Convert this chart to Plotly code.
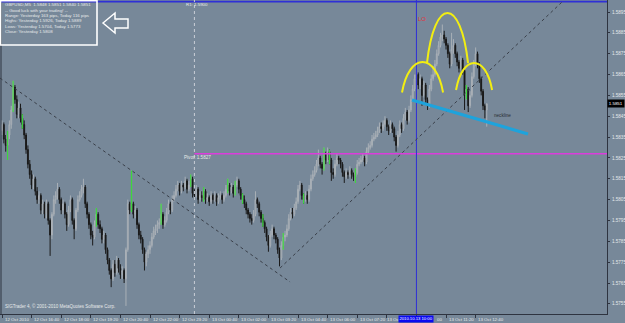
import plotly.graph_objects as go

# ------------------------------------------------------------------ data
# GBPUSD M5, bar 0 = 12 Oct 2010 15:20 (one bar every 5 minutes)
first_open = 1.5838
close = [
    1.5841, 1.5834, 1.5831, 1.5836, 1.5841, 1.5848, 1.5859, 1.5853, 1.5846, 1.5849,
    1.5844, 1.5841, 1.5836, 1.5829, 1.5822, 1.5817, 1.5812, 1.5815, 1.5809, 1.5805,
    1.5807, 1.5800, 1.5803, 1.5798, 1.5803, 1.5795, 1.5788, 1.5798, 1.5805, 1.5807,
    1.5810, 1.5805, 1.5800, 1.5803, 1.5798, 1.5793, 1.5800, 1.5805, 1.5795, 1.5791,
    1.5800, 1.5805, 1.5807, 1.5810, 1.5811, 1.5803, 1.5798, 1.5793, 1.5788, 1.5787,
    1.5793, 1.5798, 1.5793, 1.5791, 1.5786, 1.5788, 1.5781, 1.5776, 1.5771, 1.5767,
    1.5774, 1.5770, 1.5776, 1.5772, 1.5769, 1.5771, 1.5767, 1.5781, 1.5803, 1.5800,
    1.5803, 1.5798, 1.5800, 1.5793, 1.5788, 1.5786, 1.5781, 1.5775, 1.5779, 1.5781,
    1.5783, 1.5787, 1.5790, 1.5791, 1.5793, 1.5794, 1.5798, 1.5793, 1.5795, 1.5799,
    1.5803, 1.5800, 1.5805, 1.5807, 1.5810, 1.5812, 1.5809, 1.5812, 1.5811, 1.5814,
    1.5810, 1.5812, 1.5815, 1.5808, 1.5807, 1.5810, 1.5805, 1.5807, 1.5806, 1.5809,
    1.5805, 1.5806, 1.5804, 1.5807, 1.5805, 1.5807, 1.5804, 1.5806, 1.5807, 1.5805,
    1.5807, 1.5810, 1.5812, 1.5809, 1.5811, 1.5808, 1.5812, 1.5814, 1.5810, 1.5807,
    1.5805, 1.5803, 1.5800, 1.5798, 1.5796, 1.5795, 1.5798, 1.5805, 1.5803, 1.5799,
    1.5796, 1.5794, 1.5791, 1.5787, 1.5783, 1.5788, 1.5791, 1.5788, 1.5786, 1.5781,
    1.5777, 1.5783, 1.5787, 1.5788, 1.5791, 1.5796, 1.5799, 1.5798, 1.5801, 1.5804,
    1.5810, 1.5812, 1.5807, 1.5805, 1.5807, 1.5805, 1.5810, 1.5815, 1.5817, 1.5819,
    1.5822, 1.5825, 1.5822, 1.5820, 1.5827, 1.5824, 1.5828, 1.5824, 1.5818, 1.5817,
    1.5822, 1.5825, 1.5824, 1.5822, 1.5818, 1.5816, 1.5818, 1.5817, 1.5819, 1.5817,
    1.5816, 1.5818, 1.5822, 1.5823, 1.5824, 1.5825, 1.5823, 1.5828, 1.5830, 1.5831,
    1.5834, 1.5835, 1.5836, 1.5838, 1.5840, 1.5839, 1.5841, 1.5843, 1.5840, 1.5838,
    1.5841, 1.5839, 1.5835, 1.5831, 1.5836, 1.5841, 1.5839, 1.5844, 1.5847, 1.5843,
    1.5848, 1.5853, 1.5858, 1.5863, 1.5865, 1.5860, 1.5863, 1.5855, 1.5860, 1.5853,
    1.5850, 1.5858, 1.5863, 1.5865, 1.5870, 1.5875, 1.5879, 1.5883, 1.5884, 1.5882,
    1.5879, 1.5875, 1.5870, 1.5877, 1.5879, 1.5875, 1.5871, 1.5868, 1.5872, 1.5867,
    1.5855, 1.5858, 1.5850, 1.5855, 1.5864, 1.5870, 1.5875, 1.5870, 1.5863, 1.5857,
    1.5850, 1.5848, 1.5851,
]
high = [
    1.5843, 1.5842, 1.5836, 1.5838, 1.5843, 1.5850, 1.5862, 1.5860, 1.5855, 1.5852,
    1.5851, 1.5846, 1.5843, 1.5837, 1.5831, 1.5824, 1.5819, 1.5817, 1.5816, 1.5811,
    1.5809, 1.5808, 1.5805, 1.5804, 1.5805, 1.5804, 1.5796, 1.5799, 1.5807, 1.5809,
    1.5813, 1.5811, 1.5806, 1.5805, 1.5804, 1.5799, 1.5802, 1.5807, 1.5806, 1.5796,
    1.5801, 1.5807, 1.5809, 1.5812, 1.5815, 1.5812, 1.5804, 1.5799, 1.5794, 1.5790,
    1.5795, 1.5801, 1.5799, 1.5795, 1.5792, 1.5790, 1.5789, 1.5782, 1.5777, 1.5772,
    1.5776, 1.5776, 1.5778, 1.5777, 1.5774, 1.5773, 1.5772, 1.5782, 1.5805, 1.5804,
    1.5819, 1.5804, 1.5802, 1.5801, 1.5794, 1.5790, 1.5787, 1.5782, 1.5780, 1.5783,
    1.5785, 1.5789, 1.5792, 1.5793, 1.5795, 1.5796, 1.5803, 1.5799, 1.5797, 1.5801,
    1.5805, 1.5804, 1.5807, 1.5809, 1.5812, 1.5814, 1.5813, 1.5814, 1.5813, 1.5816,
    1.5815, 1.5814, 1.5817, 1.5816, 1.5810, 1.5812, 1.5811, 1.5809, 1.5809, 1.5811,
    1.5810, 1.5808, 1.5807, 1.5809, 1.5808, 1.5809, 1.5808, 1.5808, 1.5809, 1.5808,
    1.5809, 1.5812, 1.5815, 1.5813, 1.5813, 1.5812, 1.5814, 1.5816, 1.5815, 1.5811,
    1.5808, 1.5807, 1.5804, 1.5801, 1.5799, 1.5798, 1.5800, 1.5809, 1.5806, 1.5804,
    1.5800, 1.5798, 1.5795, 1.5792, 1.5788, 1.5790, 1.5793, 1.5792, 1.5789, 1.5787,
    1.5782, 1.5785, 1.5789, 1.5790, 1.5793, 1.5798, 1.5801, 1.5801, 1.5803, 1.5806,
    1.5812, 1.5814, 1.5813, 1.5808, 1.5809, 1.5809, 1.5812, 1.5817, 1.5819, 1.5821,
    1.5824, 1.5829, 1.5826, 1.5823, 1.5830, 1.5828, 1.5830, 1.5829, 1.5825, 1.5820,
    1.5824, 1.5827, 1.5826, 1.5825, 1.5823, 1.5819, 1.5820, 1.5819, 1.5821, 1.5820,
    1.5818, 1.5820, 1.5824, 1.5825, 1.5826, 1.5827, 1.5826, 1.5830, 1.5832, 1.5833,
    1.5836, 1.5837, 1.5838, 1.5840, 1.5842, 1.5842, 1.5843, 1.5845, 1.5844, 1.5841,
    1.5843, 1.5842, 1.5840, 1.5836, 1.5838, 1.5843, 1.5842, 1.5846, 1.5849, 1.5848,
    1.5850, 1.5855, 1.5860, 1.5865, 1.5870, 1.5866, 1.5865, 1.5864, 1.5862, 1.5861,
    1.5854, 1.5860, 1.5865, 1.5869, 1.5872, 1.5877, 1.5881, 1.5885, 1.5889, 1.5886,
    1.5883, 1.5880, 1.5876, 1.5885, 1.5882, 1.5880, 1.5876, 1.5872, 1.5874, 1.5873,
    1.5868, 1.5860, 1.5859, 1.5857, 1.5866, 1.5872, 1.5878, 1.5876, 1.5871, 1.5864,
    1.5858, 1.5851, 1.5851,
]
low = [
    1.5836, 1.5832, 1.5828, 1.5824, 1.5834, 1.5839, 1.5847, 1.5851, 1.5844, 1.5844,
    1.5842, 1.5839, 1.5834, 1.5827, 1.5820, 1.5815, 1.5810, 1.5810, 1.5807, 1.5803,
    1.5803, 1.5798, 1.5798, 1.5796, 1.5796, 1.5793, 1.5778, 1.5786, 1.5797, 1.5803,
    1.5805, 1.5803, 1.5798, 1.5798, 1.5796, 1.5790, 1.5792, 1.5799, 1.5793, 1.5786,
    1.5790, 1.5799, 1.5804, 1.5806, 1.5808, 1.5801, 1.5796, 1.5791, 1.5786, 1.5783,
    1.5786, 1.5792, 1.5791, 1.5789, 1.5784, 1.5784, 1.5779, 1.5774, 1.5769, 1.5763,
    1.5766, 1.5768, 1.5769, 1.5770, 1.5767, 1.5767, 1.5765, 1.5754, 1.5780, 1.5798,
    1.5799, 1.5796, 1.5796, 1.5791, 1.5786, 1.5784, 1.5779, 1.5771, 1.5773, 1.5777,
    1.5779, 1.5782, 1.5786, 1.5788, 1.5789, 1.5791, 1.5793, 1.5791, 1.5792, 1.5794,
    1.5798, 1.5798, 1.5799, 1.5804, 1.5806, 1.5809, 1.5807, 1.5808, 1.5809, 1.5810,
    1.5808, 1.5809, 1.5811, 1.5806, 1.5805, 1.5806, 1.5803, 1.5804, 1.5804, 1.5804,
    1.5803, 1.5804, 1.5802, 1.5803, 1.5803, 1.5804, 1.5802, 1.5803, 1.5805, 1.5803,
    1.5804, 1.5806, 1.5808, 1.5807, 1.5808, 1.5806, 1.5807, 1.5811, 1.5808, 1.5805,
    1.5803, 1.5801, 1.5798, 1.5796, 1.5794, 1.5793, 1.5794, 1.5797, 1.5801, 1.5797,
    1.5794, 1.5792, 1.5789, 1.5785, 1.5780, 1.5782, 1.5787, 1.5786, 1.5784, 1.5779,
    1.5773, 1.5776, 1.5781, 1.5785, 1.5787, 1.5790, 1.5795, 1.5796, 1.5797, 1.5800,
    1.5803, 1.5809, 1.5805, 1.5803, 1.5804, 1.5803, 1.5804, 1.5809, 1.5814, 1.5816,
    1.5818, 1.5821, 1.5820, 1.5817, 1.5819, 1.5822, 1.5823, 1.5822, 1.5814, 1.5815,
    1.5816, 1.5821, 1.5822, 1.5820, 1.5816, 1.5813, 1.5815, 1.5815, 1.5816, 1.5815,
    1.5814, 1.5813, 1.5817, 1.5821, 1.5822, 1.5823, 1.5821, 1.5822, 1.5827, 1.5829,
    1.5830, 1.5833, 1.5834, 1.5835, 1.5837, 1.5837, 1.5838, 1.5840, 1.5838, 1.5836,
    1.5837, 1.5837, 1.5833, 1.5828, 1.5830, 1.5835, 1.5837, 1.5838, 1.5843, 1.5841,
    1.5842, 1.5847, 1.5852, 1.5857, 1.5862, 1.5858, 1.5858, 1.5850, 1.5854, 1.5851,
    1.5848, 1.5849, 1.5857, 1.5862, 1.5864, 1.5869, 1.5874, 1.5878, 1.5881, 1.5880,
    1.5877, 1.5873, 1.5868, 1.5869, 1.5875, 1.5873, 1.5869, 1.5866, 1.5867, 1.5865,
    1.5848, 1.5853, 1.5847, 1.5849, 1.5854, 1.5863, 1.5869, 1.5868, 1.5861, 1.5855,
    1.5848, 1.5844, 1.5840,
]
green_bars = [3, 6, 11, 51, 70, 86, 102, 109, 122, 126, 130, 141, 152, 163, 174, 177, 191, 251]

time_tick_bars = [0, 16, 32, 48, 64, 80, 96, 112, 128, 144, 160, 176, 192, 208, 224, 240, 256]
time_tick_labels = ["12 Oct 2010", "12 Oct 16:40", "12 Oct 18:00", "12 Oct 19:20", "12 Oct 20:40",
                    "12 Oct 22:00", "12 Oct 23:20", "13 Oct 00:40", "13 Oct 02:00", "13 Oct 03:20",
                    "13 Oct 04:40", "13 Oct 06:00", "13 Oct 07:20", "13 Oct 08:40", "13 Oct 10:00",
                    "13 Oct 11:20", "13 Oct 12:40"]
# parts of the two labels that stay visible beside the cursor date box
label_visible_part = {"13 Oct 08:40": "13 Oct", "13 Oct 10:00": "00"}
price_ticks = [1.5755, 1.5765, 1.5775, 1.5785, 1.5795, 1.5805, 1.5815, 1.5825,
               1.5835, 1.5845, 1.5855, 1.5865, 1.5875, 1.5885, 1.5895]

pivot = 1.5827
r1 = 1.5900
current_price = 1.5851
day_start_bar = 104
cursor_bar = 224
cursor_label = "2010.10.13 10:00"

info_lines = ["GBPUSD,M5  1.5848 1.5851 1.5840 1.5851",
              "-- Good luck with your trading! --",
              "Range: Yesterday 163 pips, Today 116 pips",
              "Highs: Yesterday 1.5926, Today 1.5889",
              "Lows: Yesterday 1.5704, Today 1.5773",
              "Close: Yesterday 1.5808"]
copyright_text = "SIGTrader 4, \u00a9 2001-2010 MetaQuotes Software Corp."

# hand-drawn objects (bar index, price)
trend_down = [(-1.08, 1.58633), (155.7, 1.57655)]
trend_up = [(150.3, 1.57722), (302.7, 1.58998)]
neckline = [(221.6, 1.58528), (284.3, 1.58365)]
arcs = [  # x0, x1, base price, control price
    (216.2, 238.4, 1.58564, 1.58759),
    (229.7, 251.9, 1.58705, 1.59025),
    (245.4, 264.9, 1.58576, 1.58749),
]

# ------------------------------------------------------------------ figure
BG = "#778899"
FONT = "Liberation Sans"
X_RANGE = [-1.08, 327.0]
Y_RANGE = [1.575013, 1.590076]
PW, PH = 607.0, 314.0


def px(x):
    return x / PW


def py(y):
    return 1 - y / PH


opens = [first_open] + close[:-1]
bars = list(range(len(close)))

fig = go.Figure()
fig.add_trace(go.Candlestick(
    x=bars, open=opens, high=high, low=low, close=close,
    increasing=dict(line=dict(color="#a9b0b7", width=1), fillcolor="#7e8994"),
    decreasing=dict(line=dict(color="#1a1a1a", width=1), fillcolor="#0a0a0a"),
    whiskerwidth=0, hoverinfo="skip", showlegend=False))

gx, gy = [], []
for i in green_bars:
    gx += [i, i, None]
    gy += [low[i], high[i], None]
fig.add_trace(go.Scatter(x=gx, y=gy, mode="lines", line=dict(color="#3ed63e", width=1.2),
                         hoverinfo="skip", showlegend=False))

shapes = []
shapes.append(dict(type="line", xref="paper", yref="paper", x0=px(1), x1=px(1), y0=0, y1=1,
                   line=dict(color="#2e3440", width=1)))
shapes.append(dict(type="line", xref="paper", yref="y", x0=0, x1=1, y0=r1, y1=r1,
                   line=dict(color="#2f2fd6", width=1.6)))
shapes.append(dict(type="line", xref="x", yref="paper", x0=day_start_bar, x1=day_start_bar, y0=0, y1=1,
                   line=dict(color="#c9ced6", width=1, dash="dot")))
shapes.append(dict(type="line", xref="x", yref="y", x0=day_start_bar, x1=X_RANGE[1], y0=pivot, y1=pivot,
                   line=dict(color="#dc3cdc", width=1.6)))
shapes.append(dict(type="line", xref="x", yref="paper", x0=cursor_bar, x1=cursor_bar, y0=0, y1=1,
                   line=dict(color="#2f2fd6", width=1)))
for (a, b) in (trend_down, trend_up):
    shapes.append(dict(type="line", xref="x", yref="y", x0=a[0], y0=a[1], x1=b[0], y1=b[1],
                       line=dict(color="#3a404a", width=1, dash="dot")))
shapes.append(dict(type="line", xref="x", yref="y", x0=neckline[0][0], y0=neckline[0][1],
                   x1=neckline[1][0], y1=neckline[1][1], line=dict(color="#1ea3dc", width=3.2)))
for (x0, x1, base, ctrl) in arcs:
    w = x1 - x0
    path = f"M {x0},{base} C {x0 + 0.18 * w},{ctrl} {x1 - 0.18 * w},{ctrl} {x1},{base}"
    shapes.append(dict(type="path", xref="x", yref="y", path=path,
                       line=dict(color="#f2ee12", width=2)))
shapes.append(dict(type="rect", xref="paper", yref="paper", x0=px(0.5), x1=px(97), y0=py(45), y1=py(0.7),
                   line=dict(color="#ffffff", width=1.6), fillcolor="rgba(0,0,0,0)"))
pts = [(103, 23), (115, 13), (115, 19), (128, 19), (128, 28), (115, 28), (115, 33)]
apath = "M " + " L ".join(f"{px(a)},{py(b)}" for a, b in pts) + " Z"
shapes.append(dict(type="path", xref="paper", yref="paper", path=apath,
                   line=dict(color="#ffffff", width=1.5)))

ann = []
TXT = "#e6e8ea"
for k, line in enumerate(info_lines):
    ann.append(dict(xref="paper", yref="paper", x=px(3), y=py(5 + 5.3 * k), text=line,
                    xanchor="left", yanchor="middle", showarrow=False,
                    font=dict(family=FONT, size=4.4, color=TXT)))
ann.append(dict(xref="paper", yref="paper", x=px(184), y=py(5), text="R1: 1.5900", xanchor="left",
                yanchor="middle", showarrow=False, font=dict(family=FONT, size=4.4, color=TXT)))
ann.append(dict(xref="paper", yref="paper", x=px(182), y=py(157), text="Pivot: 1.5827", xanchor="left",
                yanchor="middle", showarrow=False, font=dict(family=FONT, size=4.6, color=TXT)))
ann.append(dict(xref="paper", yref="paper", x=px(416), y=py(19), text="LO", xanchor="left",
                yanchor="middle", showarrow=False, font=dict(family=FONT, size=6, color="#e0323c")))
ann.append(dict(xref="paper", yref="paper", x=px(492), y=py(116), text="neckline", xanchor="left",
                yanchor="middle", showarrow=False, font=dict(family=FONT, size=4.6, color="#2a2d33")))
ann.append(dict(xref="paper", yref="paper", x=px(3), y=py(306), text=copyright_text, xanchor="left",
                yanchor="middle", showarrow=False, font=dict(family=FONT, size=4.5, color=TXT)))
for b, lab in zip(time_tick_bars, time_tick_labels):
    if lab == "13 Oct 10:00":
        xpos = b + 10.0
    elif lab == "13 Oct 08:40":
        xpos = b - 0.8
    else:
        xpos = b + 0.3
    ann.append(dict(xref="x", yref="paper", x=xpos, y=py(319), text=label_visible_part.get(lab, lab),
                    xanchor="left", yanchor="middle", showarrow=False,
                    font=dict(family=FONT, size=4.4, color=TXT)))
ann.append(dict(xref="x", yref="paper", x=cursor_bar, y=py(319), text=cursor_label, xanchor="center",
                yanchor="middle", showarrow=False, bgcolor="#0a0af0", borderpad=0.4,
                font=dict(family=FONT, size=4.2, color="#ffffff")))
ann.append(dict(xref="paper", yref="y", x=1.0, y=current_price, text=f"{current_price:.4f}",
                xanchor="left", yanchor="middle", showarrow=False, bgcolor="#000000", borderpad=0.8,
                font=dict(family=FONT, size=4.4, color="#ffffff")))

fig.update_layout(
    width=625, height=323,
    margin=dict(l=0, r=18, t=0, b=9, pad=0),
    paper_bgcolor=BG, plot_bgcolor=BG,
    showlegend=False,
    shapes=shapes, annotations=ann,
    xaxis=dict(range=X_RANGE, showgrid=False, zeroline=False, rangeslider=dict(visible=False),
               tickvals=time_tick_bars, showticklabels=False, ticks="outside", ticklen=3,
               tickcolor="#2e3440", showline=True, linecolor="#2e3440", linewidth=1),
    yaxis=dict(range=Y_RANGE, side="right", showgrid=False, zeroline=False,
               tickvals=price_ticks, ticktext=[f"{v:.4f}" for v in price_ticks],
               ticks="outside", ticklen=2, tickcolor="#2e3440", ticklabelstandoff=1,
               tickfont=dict(family=FONT, size=4.6, color=TXT),
               showline=True, linecolor="#2e3440", linewidth=1),
)

fig.write_html("out.html", config={"displayModeBar": False})
